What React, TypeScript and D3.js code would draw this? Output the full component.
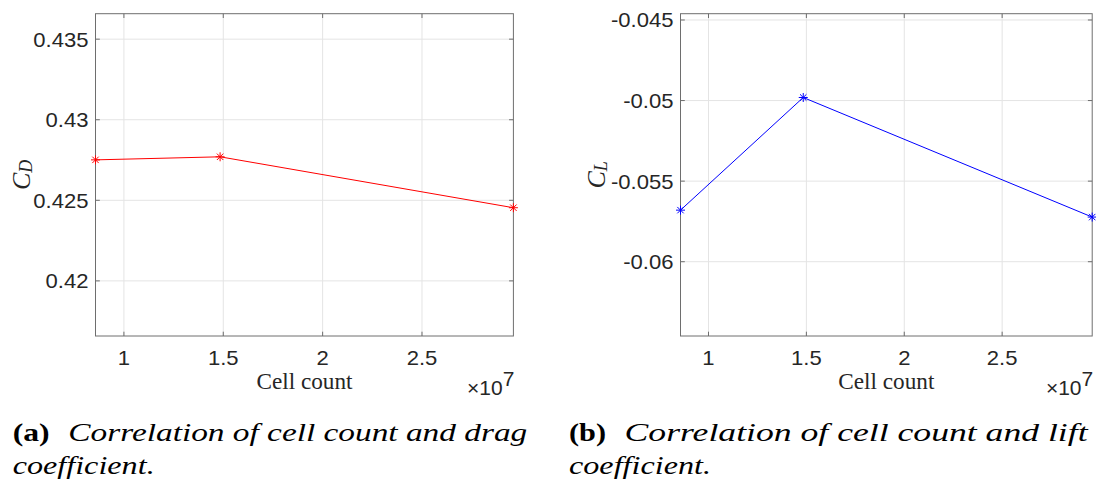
import React, { useEffect } from 'react';
import * as d3 from 'd3';

// ---- data ----
const cellCount = [0.857e7, 1.484e7, 2.96e7];
const dragCoeff = [0.42751, 0.4277, 0.42454];
const liftCoeff = [-0.0568, -0.04981, -0.05723];

const xTicks = [1e7, 1.5e7, 2e7, 2.5e7];
const xTickLabels = ['1', '1.5', '2', '2.5'];
const cdTicks = [0.42, 0.425, 0.43, 0.435];
const cdTickLabels = ['0.42', '0.425', '0.43', '0.435'];
const clTicks = [-0.06, -0.055, -0.05, -0.045];
const clTickLabels = ['-0.06', '-0.055', '-0.05', '-0.045'];
const cdLimits = [0.41658, 0.43658];
const clLimits = [-0.06461, -0.04461];

const SANS = '"Liberation Sans", Arial, Helvetica, sans-serif';
const SERIF = '"Liberation Serif", "Times New Roman", serif';
const AXIS_COLOR = '#6e6e6e';
const GRID_COLOR = '#e4e4e4';
const TEXT_COLOR = '#262626';
const SX = 1.05;

type Box = { x0: number; x1: number; y0: number; y1: number };

function SText(props: { x: number; y: number; anchor?: string; size: number; family?: string; children: React.ReactNode; fill?: string }) {
  const { x, y, anchor = 'start', size, family = SANS, children, fill = TEXT_COLOR } = props;
  return (
    <text
      transform={`translate(${x},${y}) scale(${SX},1)`}
      textAnchor={anchor as any}
      fontSize={size}
      fontFamily={family}
      fill={fill}
    >
      {children}
    </text>
  );
}

const asterisk = 'M-4.5,0H4.5M0,-4.5V4.5M-3.2,-3.2L3.2,3.2M-3.2,3.2L3.2,-3.2';

function Panel(props: {
  box: Box;
  values: number[];
  color: string;
  yTicks: number[];
  yTickLabels: string[];
  yLimits: number[];
  sub: string;
  yLabelX: number;
}) {
  const { box, values, color, yTicks, yTickLabels, yLimits, sub, yLabelX } = props;
  const x = d3.scaleLinear().domain(d3.extent(cellCount) as [number, number]).range([box.x0, box.x1]);
  const y = d3.scaleLinear().domain(yLimits as [number, number]).range([box.y1, box.y0]);
  const pts = cellCount.map((c, i) => [x(c), y(values[i])] as [number, number]);
  const line = d3.line()(pts) || '';
  const tl = 4.3;
  const yMid = (box.y0 + box.y1) / 2;
  return (
    <g>
      <rect x={box.x0} y={box.y0} width={box.x1 - box.x0} height={box.y1 - box.y0} fill="#fff" />
      {xTicks.map((t) => (
        <line key={'gx' + t} x1={x(t)} x2={x(t)} y1={box.y0} y2={box.y1} stroke={GRID_COLOR} strokeWidth={1} />
      ))}
      {yTicks.map((t) => (
        <line key={'gy' + t} x1={box.x0} x2={box.x1} y1={y(t)} y2={y(t)} stroke={GRID_COLOR} strokeWidth={1} />
      ))}
      {xTicks.map((t) => (
        <g key={'tx' + t}>
          <line x1={x(t)} x2={x(t)} y1={box.y1} y2={box.y1 - tl} stroke={AXIS_COLOR} />
          <line x1={x(t)} x2={x(t)} y1={box.y0} y2={box.y0 + tl} stroke={AXIS_COLOR} />
        </g>
      ))}
      {yTicks.map((t) => (
        <g key={'ty' + t}>
          <line x1={box.x0} x2={box.x0 + tl} y1={y(t)} y2={y(t)} stroke={AXIS_COLOR} />
          <line x1={box.x1} x2={box.x1 - tl} y1={y(t)} y2={y(t)} stroke={AXIS_COLOR} />
        </g>
      ))}
      <rect x={box.x0} y={box.y0} width={box.x1 - box.x0} height={box.y1 - box.y0} fill="none" stroke={AXIS_COLOR} strokeWidth={1} />
      <path d={line} fill="none" stroke={color} strokeWidth={1} />
      {pts.map((p, i) => (
        <path key={'m' + i} d={asterisk} transform={`translate(${p[0]},${p[1]})`} stroke={color} strokeWidth={1} fill="none" />
      ))}
      {xTicks.map((t, i) => (
        <SText key={'lx' + t} x={x(t)} y={box.y1 + 29} anchor="middle" size={21}>
          {xTickLabels[i]}
        </SText>
      ))}
      {yTicks.map((t, i) => (
        <SText key={'ly' + t} x={box.x0 - 7} y={y(t) + 7.5} anchor="end" size={21}>
          {yTickLabels[i]}
        </SText>
      ))}
      <text x={(box.x0 + box.x1) / 2} y={389} textAnchor="middle" fontFamily={SERIF} fontSize={23} fill={TEXT_COLOR} textLength={96} lengthAdjust="spacingAndGlyphs">
        Cell count
      </text>
      <SText x={box.x1 + 1} y={395} anchor="end" size={20}>
        <tspan>×10</tspan>
        <tspan dy={-9}>7</tspan>
      </SText>
      <text
        transform={`translate(${box.x0 + yLabelX},${yMid}) rotate(-90)`}
        textAnchor="middle"
        dominantBaseline="central"
        fontFamily={SERIF}
        fontSize={26}
        fontStyle="italic"
        fill={TEXT_COLOR}
      >
        <tspan>C</tspan>
        <tspan fontSize={18} dy={5}>{sub}</tspan>
      </text>
    </g>
  );
}

const captionLabels = ['(a)', '(b)'];
const captionLines = ['Correlation of cell count and drag', 'Correlation of cell count and lift'];
const captionSecond = 'coefficient.';

function Caption(props: { x: number; label: string; text: string; textLen: number }) {
  const { x, label, text, textLen } = props;
  return (
    <g fill="#000" fontFamily={SERIF} fontSize={25}>
      <text x={x} y={441} fontWeight="bold" textLength={37} lengthAdjust="spacingAndGlyphs">
        {label}
      </text>
      <text x={x + 55.6} y={441} fontStyle="italic" textLength={textLen} lengthAdjust="spacingAndGlyphs">
        {text}
      </text>
      <text x={x} y={474} fontStyle="italic" textLength={142} lengthAdjust="spacingAndGlyphs">
        {captionSecond}
      </text>
    </g>
  );
}

export default function App() {
  useEffect(() => {
    document.body.style.margin = '0';
  }, []);
  const leftBox: Box = { x0: 95.5, x1: 513.4, y0: 13.7, y1: 336 };
  const rightBox: Box = { x0: 680.5, x1: 1092.2, y0: 13.7, y1: 336 };
  return (
    <svg width={1096} height={488} style={{ position: 'absolute', left: 0, top: 0, background: '#fff' }}>
      <rect x={0} y={0} width={1096} height={488} fill="#fff" />
      <Panel box={leftBox} values={dragCoeff} color="#ff0000" yTicks={cdTicks} yTickLabels={cdTickLabels} yLimits={cdLimits} sub="D" yLabelX={-75} />
      <Panel box={rightBox} values={liftCoeff} color="#0000ff" yTicks={clTicks} yTickLabels={clTickLabels} yLimits={clLimits} sub="L" yLabelX={-85} />
      <Caption x={12.7} label={captionLabels[0]} text={captionLines[0]} textLen={459} />
      <Caption x={569} label={captionLabels[1]} text={captionLines[1]} textLen={463} />
    </svg>
  );
}
